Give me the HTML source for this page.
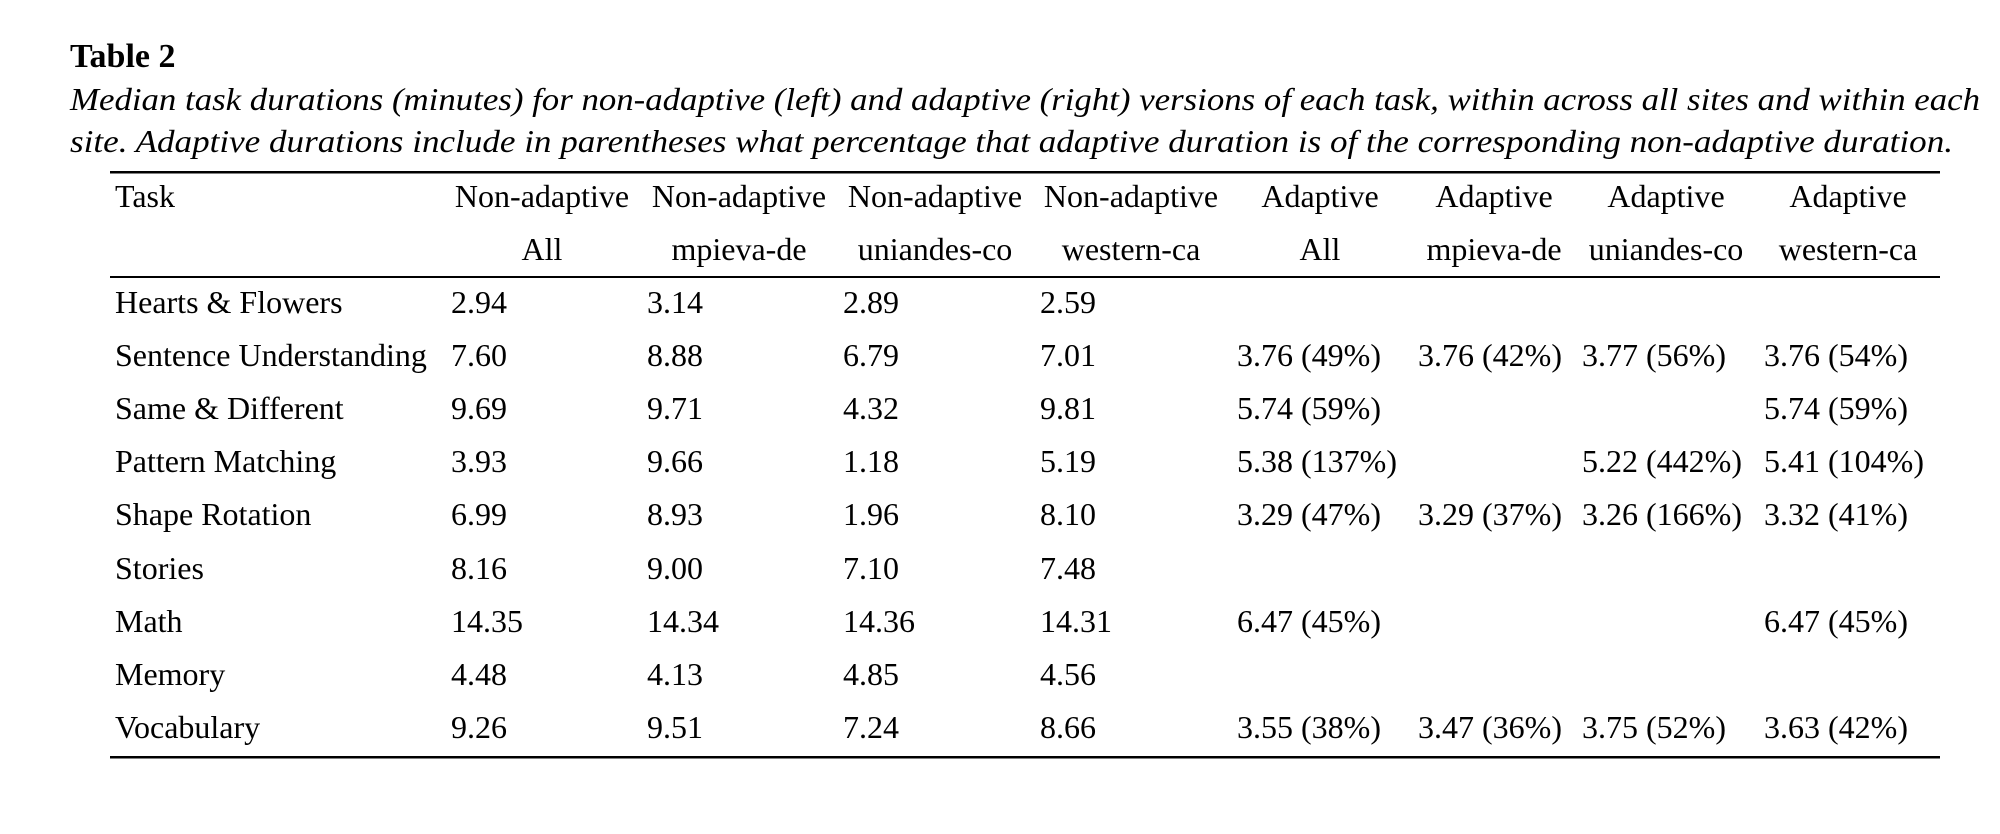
<!DOCTYPE html>
<html><head><meta charset="utf-8"><style>
html,body{margin:0;padding:0;background:#fff;}
svg{display:block;}
text{font-family:"Liberation Serif","Times New Roman",serif;fill:#000;font-size:32px;}
</style></head><body>
<svg width="2000" height="834" viewBox="0 0 2000 834" xmlns="http://www.w3.org/2000/svg">
<text x="70" y="67" style="font-size:34px;font-weight:bold">Table 2</text>
<text x="70" y="110" style="font-size:32px;font-style:italic" textLength="1910" lengthAdjust="spacingAndGlyphs">Median task durations (minutes) for non-adaptive (left) and adaptive (right) versions of each task, within across all sites and within each</text>
<text x="70" y="152" style="font-size:32px;font-style:italic" textLength="1883" lengthAdjust="spacingAndGlyphs">site. Adaptive durations include in parentheses what percentage that adaptive duration is of the corresponding non-adaptive duration.</text>
<rect x="110" y="171" width="1830" height="2.5" fill="#000"/>
<rect x="110" y="276" width="1830" height="2" fill="#000"/>
<rect x="110" y="756" width="1830" height="2.5" fill="#000"/>
<text x="115" y="207">Task</text>
<text x="542" y="207" text-anchor="middle">Non-adaptive</text>
<text x="739" y="207" text-anchor="middle">Non-adaptive</text>
<text x="935" y="207" text-anchor="middle">Non-adaptive</text>
<text x="1131" y="207" text-anchor="middle">Non-adaptive</text>
<text x="1320" y="207" text-anchor="middle">Adaptive</text>
<text x="1494" y="207" text-anchor="middle">Adaptive</text>
<text x="1666" y="207" text-anchor="middle">Adaptive</text>
<text x="1848" y="207" text-anchor="middle">Adaptive</text>
<text x="542" y="260" text-anchor="middle">All</text>
<text x="739" y="260" text-anchor="middle">mpieva-de</text>
<text x="935" y="260" text-anchor="middle">uniandes-co</text>
<text x="1131" y="260" text-anchor="middle">western-ca</text>
<text x="1320" y="260" text-anchor="middle">All</text>
<text x="1494" y="260" text-anchor="middle">mpieva-de</text>
<text x="1666" y="260" text-anchor="middle">uniandes-co</text>
<text x="1848" y="260" text-anchor="middle">western-ca</text>

<text x="115" y="313">Hearts &amp; Flowers</text><text x="451" y="313">2.94</text><text x="647" y="313">3.14</text><text x="843" y="313">2.89</text><text x="1040" y="313">2.59</text>

<text x="115" y="366">Sentence Understanding</text><text x="451" y="366">7.60</text><text x="647" y="366">8.88</text><text x="843" y="366">6.79</text><text x="1040" y="366">7.01</text><text x="1237" y="366">3.76 (49%)</text><text x="1418" y="366">3.76 (42%)</text><text x="1582" y="366">3.77 (56%)</text><text x="1764" y="366">3.76 (54%)</text>

<text x="115" y="419">Same &amp; Different</text><text x="451" y="419">9.69</text><text x="647" y="419">9.71</text><text x="843" y="419">4.32</text><text x="1040" y="419">9.81</text><text x="1237" y="419">5.74 (59%)</text><text x="1764" y="419">5.74 (59%)</text>

<text x="115" y="472">Pattern Matching</text><text x="451" y="472">3.93</text><text x="647" y="472">9.66</text><text x="843" y="472">1.18</text><text x="1040" y="472">5.19</text><text x="1237" y="472">5.38 (137%)</text><text x="1582" y="472">5.22 (442%)</text><text x="1764" y="472">5.41 (104%)</text>

<text x="115" y="525">Shape Rotation</text><text x="451" y="525">6.99</text><text x="647" y="525">8.93</text><text x="843" y="525">1.96</text><text x="1040" y="525">8.10</text><text x="1237" y="525">3.29 (47%)</text><text x="1418" y="525">3.29 (37%)</text><text x="1582" y="525">3.26 (166%)</text><text x="1764" y="525">3.32 (41%)</text>

<text x="115" y="579">Stories</text><text x="451" y="579">8.16</text><text x="647" y="579">9.00</text><text x="843" y="579">7.10</text><text x="1040" y="579">7.48</text>

<text x="115" y="632">Math</text><text x="451" y="632">14.35</text><text x="647" y="632">14.34</text><text x="843" y="632">14.36</text><text x="1040" y="632">14.31</text><text x="1237" y="632">6.47 (45%)</text><text x="1764" y="632">6.47 (45%)</text>

<text x="115" y="685">Memory</text><text x="451" y="685">4.48</text><text x="647" y="685">4.13</text><text x="843" y="685">4.85</text><text x="1040" y="685">4.56</text>

<text x="115" y="738">Vocabulary</text><text x="451" y="738">9.26</text><text x="647" y="738">9.51</text><text x="843" y="738">7.24</text><text x="1040" y="738">8.66</text><text x="1237" y="738">3.55 (38%)</text><text x="1418" y="738">3.47 (36%)</text><text x="1582" y="738">3.75 (52%)</text><text x="1764" y="738">3.63 (42%)</text>
</svg>
</body></html>
